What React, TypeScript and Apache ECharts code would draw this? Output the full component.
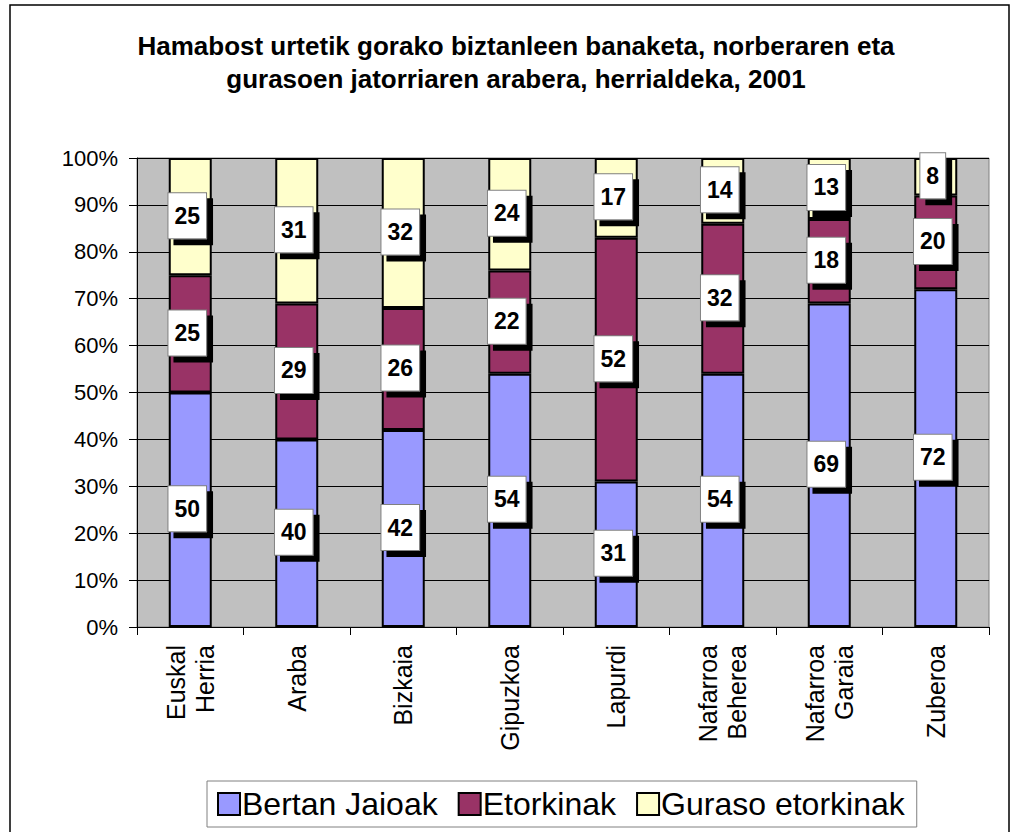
import React, { useEffect, useRef } from "react";
import * as echarts from "echarts";

const categories = [
  "Euskal Herria",
  "Araba",
  "Bizkaia",
  "Gipuzkoa",
  "Lapurdi",
  "Nafarroa Beherea",
  "Nafarroa Garaia",
  "Zuberoa",
];
const bertanJaioak = [50, 40, 42, 54, 31, 54, 69, 72];
const etorkinak = [25, 29, 26, 22, 52, 32, 18, 20];
const gurasoEtorkinak = [25, 31, 32, 24, 17, 14, 13, 8];
const seriesNames = ["Bertan Jaioak", "Etorkinak", "Guraso etorkinak"];
const seriesColors = ["#9999FF", "#993366", "#FFFFCC"];
const titleText =
  "Hamabost urtetik gorako biztanleen banaketa, norberaren eta\ngurasoen jatorriaren arabera, herrialdeka, 2001";

const FONT = '"Liberation Sans", Arial, Helvetica, sans-serif';

export default function App() {
  const ref = useRef<HTMLDivElement>(null);
  useEffect(() => {
    if (!ref.current) return;
    const chart = echarts.init(ref.current, null, { renderer: "svg" });
    const dataSets = [bertanJaioak, etorkinak, gurasoEtorkinak];
    const series = dataSets.map((d, i) => ({
      name: seriesNames[i],
      type: "bar",
      stack: "total",
      data: d,
      barWidth: 43,
      itemStyle: { color: seriesColors[i], borderColor: "#000", borderWidth: 2 },
      label: {
        show: true,
        position: "inside",
        offset: [-3, -1],
        formatter: "{c}",
        fontFamily: FONT,
        fontSize: 23,
        fontWeight: "bold",
        color: "#000",
        backgroundColor: "#fff",
        borderColor: "#808080",
        borderWidth: 1,
        padding: [11, 6, 11, 6],
        shadowColor: "#000",
        shadowBlur: 0,
        shadowOffsetX: 6,
        shadowOffsetY: 6,
      },
    }));
    chart.setOption({
      animation: false,
      textStyle: { fontFamily: FONT },
      title: {
        text: titleText,
        left: 511,
        top: 24,
        textAlign: "center",
        textStyle: {
          fontFamily: FONT,
          fontSize: 26,
          fontWeight: "bold",
          color: "#000",
          lineHeight: 33,
          align: "center",
        },
      },
      graphic: [
        {
          type: "rect",
          z: -10,
          shape: { x: 10, y: 5, width: 999, height: 840 },
          style: { fill: "#fff", stroke: "#000", lineWidth: 1.5 },
        },
      ],
      legend: {
        data: seriesNames,
        left: 207,
        top: 781,
        orient: "horizontal",
        icon: "rect",
        itemWidth: 22,
        itemHeight: 22,
        itemGap: 20,
        padding: [7, 12, 7, 10],
        backgroundColor: "#fff",
        borderColor: "#808080",
        borderWidth: 1,
        itemStyle: { borderColor: "#000", borderWidth: 2 },
        textStyle: { fontFamily: FONT, fontSize: 32, color: "#000", padding: [0, 0, 0, -3] },
      },
      grid: {
        left: 137,
        right: 23,
        top: 158,
        bottom: 205,
        show: true,
        backgroundColor: "#C0C0C0",
        borderColor: "#808080",
        borderWidth: 1,
      },
      xAxis: {
        type: "category",
        data: categories,
        axisLine: { lineStyle: { color: "#000", width: 1 } },
        axisTick: { show: true, length: 8, lineStyle: { color: "#000" } },
        axisLabel: {
          rotate: 90,
          margin: 18,
          fontFamily: FONT,
          fontSize: 25,
          lineHeight: 29,
          color: "#000",
          interval: 0,
          formatter: (v: string) => v.replace(" ", "\n"),
        },
      },
      yAxis: {
        type: "value",
        min: 0,
        max: 100,
        interval: 10,
        axisLine: { show: true, lineStyle: { color: "#000", width: 1 } },
        axisTick: { show: true, length: 8, lineStyle: { color: "#000" } },
        axisLabel: {
          formatter: "{value}%",
          margin: 19,
          fontFamily: FONT,
          fontSize: 22,
          color: "#000",
        },
        splitLine: { show: true, lineStyle: { color: "#000", width: 1 } },
      },
      series,
    });
    return () => chart.dispose();
  }, []);
  return (
    <div
      ref={ref}
      style={{ position: "fixed", left: 0, top: 0, width: 1012, height: 832, background: "#fff" }}
    />
  );
}
